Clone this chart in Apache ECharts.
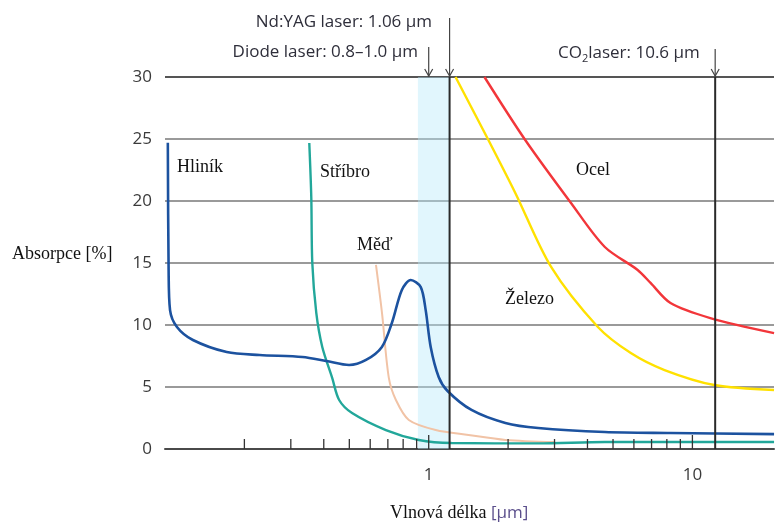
<!DOCTYPE html>
<html>
<head>
<meta charset="utf-8">
<script src="https://cdn.jsdelivr.net/npm/echarts@6/dist/echarts.min.js"></script>
<style>html,body{margin:0;padding:0;background:#fff;}#c{width:777px;height:523px;}</style>
</head>
<body>
<div id="c"></div>
<script>
// ---- data ----
const hlinik = [[0.1025,24.7],[0.1032,14.5],[0.1045,11.2],[0.111,9.84],[0.1276,8.79],[0.1714,7.82],[0.2283,7.58],[0.332,7.42],[0.4087,7.10],[0.499,6.77],[0.5785,7.18],[0.6646,8.23],[0.725,10.16],[0.791,12.82],[0.855,13.63],[0.933,13.06],[0.974,11.2],[1.0175,8.23],[1.091,5.81],[1.179,4.68],[1.453,3.15],[1.953,2.10],[2.60,1.69],[4.655,1.37],[8.26,1.29],[20.4,1.20]];
const stribro = [[0.3525,24.68],[0.3587,20.3],[0.3619,15.0],[0.3747,10.97],[0.3948,8.23],[0.4305,5.73],[0.4575,3.95],[0.512,2.90],[0.688,1.53],[0.917,0.73],[1.221,0.48],[2.60,0.45],[4.655,0.56],[20.4,0.56]];
const med = [[0.631,14.84],[0.665,10.97],[0.706,5.73],[0.751,3.95],[0.8406,2.34],[1.063,1.53],[1.416,1.13],[1.953,0.73],[3.015,0.56]];
const zelezo = [[1.264,30],[1.684,24.92],[2.13,20.65],[2.912,14.68],[4.38,9.84],[5.84,7.74],[7.84,6.37],[12.11,5.16],[20.4,4.76]];
const ocel = [[1.627,30],[2.323,24.92],[3.464,19.84],[4.655,16.29],[6.20,14.44],[6.94,13.39],[8.26,11.77],[11.69,10.56],[20.4,9.35]];
const minorTicks = [0.2,0.3,0.4,0.5,0.6,0.7,0.8,0.9,2,3,4,5,6,7,8,9];
const majorTicks = [1,10];
const xTickLabels = {1:'1',10:'10'};
const laserLines = [1.2, 12.2];       // Nd:YAG and CO2 marker lines as drawn
const diodeArrow = [1.0];
const diodeBand = [0.91, 1.2];

const chart = echarts.init(document.getElementById('c'), null, {renderer:'canvas'});
const sans = '"Open Sans", sans-serif';
const serif = '"Liberation Serif", "Times New Roman", serif';

function tickSeries(vals, len){
  return {
    type:'custom', silent:true, clip:false, z:5,
    data: vals.map(v=>[v,0]),
    renderItem:(params, api)=>{
      const p = api.coord([api.value(0), 0]);
      return {type:'line', shape:{x1:p[0],y1:p[1],x2:p[0],y2:p[1]-len}, style:{stroke:'#333',lineWidth:1.3}};
    }
  };
}
function arrowSeries(vals, shaftTop, withLine){
  return {
    type:'custom', silent:true, clip:false, z:6,
    data: vals.map(v=>[v,30]),
    renderItem:(params, api)=>{
      const top = api.coord([api.value(0), 30]);
      const bot = api.coord([api.value(0), 0]);
      const x = top[0], y = top[1];
      const children = [
        {type:'line', shape:{x1:x,y1:shaftTop,x2:x,y2:y}, style:{stroke:'#444',lineWidth:1.2}},
        {type:'polyline', shape:{points:[[x-4,y-8],[x,y-1],[x+4,y-8]]}, style:{stroke:'#444',lineWidth:1.2,fill:null}}
      ];
      if (withLine) children.push({type:'line', shape:{x1:x,y1:y,x2:x,y2:bot[1]}, style:{stroke:'#2a2a2a',lineWidth:2}});
      return {type:'group', children};
    }
  };
}
function curve(data, color, w){
  return {type:'line', data, smooth:0.3, showSymbol:false, symbol:'none', z:3,
    lineStyle:{color, width:w}, silent:true};
}

const option = {
  animation:false,
  grid:{left:165, right:0, top:77, bottom:74},
  xAxis:{type:'log', logBase:10, min:0.1, max:20.39,
    axisLine:{show:true, lineStyle:{color:'#4a4a4a', width:2}},
    axisTick:{show:false}, splitLine:{show:false}, minorTick:{show:false},
    axisLabel:{margin:18, color:'#3a3a3a', fontFamily:sans, fontSize:17,
      formatter:(v)=>{ const r = Math.round(v); return (Math.abs(v-r)<1e-6 && xTickLabels[r]) ? xTickLabels[r] : ''; }}
  },
  yAxis:{type:'value', min:0, max:30, interval:5,
    axisLine:{show:false}, axisTick:{show:false},
    axisLabel:{margin:13, color:'#3a3a3a', fontFamily:sans, fontSize:17},
    splitLine:{show:true, lineStyle:{color:['#9a9a9a','#9a9a9a','#9a9a9a','#9a9a9a','#9a9a9a','#9a9a9a','#555555'], width:2}}
  },
  series:[
    {type:'line', data:[], silent:true, z:1,
      markArea:{silent:true, itemStyle:{color:'rgba(180,232,250,0.4)'}, data:[[{xAxis:diodeBand[0], yAxis:0},{xAxis:diodeBand[1], yAxis:30}]]}},
    curve(med, '#f1c3a6', 2),
    curve(stribro, '#22a79a', 2.4),
    curve(hlinik, '#1c529f', 2.6),
    curve(zelezo, '#ffe100', 2.4),
    curve(ocel, '#f2363a', 2.4),
    tickSeries(minorTicks, 10),
    tickSeries(majorTicks, 14),
    arrowSeries([laserLines[0]], 18, true),
    arrowSeries([laserLines[1]], 49, true),
    arrowSeries(diodeArrow, 47, false)
  ],
  graphic:[
    {type:'text', x:432, y:22, style:{text:'Nd:YAG laser: 1.06 µm', fill:'#2e2e3a', font:'17px '+sans, textAlign:'right', textVerticalAlign:'middle'}},
    {type:'text', x:418, y:52, style:{text:'Diode laser: 0.8–1.0 µm', fill:'#2e2e3a', font:'17px '+sans, textAlign:'right', textVerticalAlign:'middle'}},
    {type:'text', x:558, y:43, style:{text:'CO{s|2}laser: 10.6 µm', fill:'#2e2e3a', font:'17px '+sans,
      rich:{s:{fontSize:11, fontFamily:sans, fill:'#2e2e3a', padding:[10,0,0,0]}}}},
    {type:'text', x:177, y:167, style:{text:'Hliník', fill:'#111', font:'18px '+serif, textVerticalAlign:'middle'}},
    {type:'text', x:320, y:172, style:{text:'Stříbro', fill:'#111', font:'18px '+serif, textVerticalAlign:'middle'}},
    {type:'text', x:357, y:245, style:{text:'Měď', fill:'#111', font:'18px '+serif, textVerticalAlign:'middle'}},
    {type:'text', x:576, y:170, style:{text:'Ocel', fill:'#111', font:'18px '+serif, textVerticalAlign:'middle'}},
    {type:'text', x:505, y:299, style:{text:'Železo', fill:'#111', font:'18px '+serif, textVerticalAlign:'middle'}},
    {type:'text', x:12, y:254, style:{text:'Absorpce [%]', fill:'#111', font:'18px '+serif, textVerticalAlign:'middle'}},
    {type:'text', x:390, y:513, style:{text:'Vlnová délka {u|[µm]}', fill:'#111', font:'18px '+serif, textVerticalAlign:'middle',
      rich:{u:{fontFamily:sans, fontSize:17, fill:'#5b4f8c'}}}}
  ]
};
chart.setOption(option);
</script>
</body>
</html>
